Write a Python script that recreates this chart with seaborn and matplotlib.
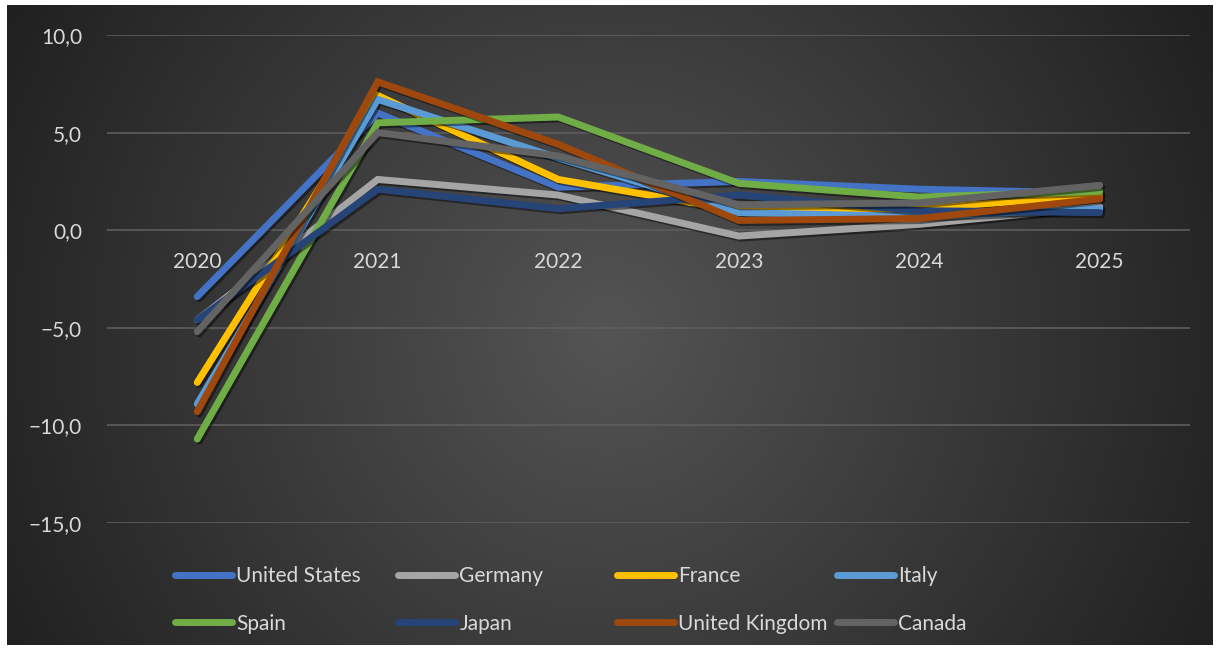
import numpy as np
import pandas as pd
import matplotlib
matplotlib.use("Agg")
import matplotlib.pyplot as plt
import matplotlib.patheffects as pe
from matplotlib.lines import Line2D
import seaborn as sns

years = ["2020", "2021", "2022", "2023", "2024", "2025"]
countries = ["United States", "Germany", "France", "Italy",
             "Spain", "Japan", "United Kingdom", "Canada"]
us = [-3.4, 6.0, 2.2, 2.5, 2.1, 1.9]
germany = [-4.6, 2.6, 1.8, -0.3, 0.3, 1.2]
france = [-7.8, 6.9, 2.6, 1.0, 1.1, 1.8]
italy = [-8.9, 6.7, 3.7, 0.9, 0.7, 1.1]
spain = [-10.7, 5.5, 5.8, 2.4, 1.7, 2.0]
japan = [-4.6, 2.1, 1.1, 1.8, 1.0, 0.9]
uk = [-9.3, 7.6, 4.4, 0.5, 0.6, 1.6]
canada = [-5.2, 5.0, 3.8, 1.3, 1.4, 2.3]
series = [us, germany, france, italy, spain, japan, uk, canada]
colors = ["#4472C4", "#A5A5A5", "#FFC000", "#5B9BD5",
          "#70AD47", "#264478", "#9E480E", "#636363"]
yticks = [-15, -10, -5, 0, 5, 10]

rows = []
for c, vals in zip(countries, series):
    for i, v in enumerate(vals):
        rows.append({"x": i, "value": v, "country": c})
df = pd.DataFrame(rows)

sns.set_style("white")
plt.rcParams["font.family"] = ["Lato", "DejaVu Sans"]
txt = "#d9d9d9"
fs = 15

W, H = 1217, 650
fig = plt.figure(figsize=(W / 100, H / 100), dpi=100, facecolor="white")

# radial gradient background
bg = fig.add_axes([7 / W, 5 / H, (1213 - 7) / W, (645 - 5) / H], zorder=-5)
yy, xx = np.mgrid[0:640, 0:1206]
cx, cy = 600, 330
r = np.sqrt((xx - cx) ** 2 + (yy - cy) ** 2)
r = r / np.sqrt(cx ** 2 + cy ** 2)
r = np.clip(r, 0, 1)
c0 = np.array([0x54, 0x54, 0x54]) / 255
c1 = np.array([0x20, 0x20, 0x20]) / 255
img = c0[None, None, :] * (1 - r[..., None]) + c1[None, None, :] * r[..., None]
bg.imshow(img, aspect="auto", interpolation="bilinear")
bg.set_axis_off()

ax = fig.add_axes([107 / W, 1 - 523 / H, (1190 - 107) / W, (523 - 35) / H])
ax.set_facecolor("none")

sns.lineplot(data=df, x="x", y="value", hue="country", hue_order=countries,
             palette=colors, linewidth=5, solid_capstyle="round",
             solid_joinstyle="miter", legend=False, ax=ax,
             path_effects=[pe.SimpleLineShadow(offset=(1.5, -1.5), shadow_color="black", alpha=0.45),
                           pe.Normal()])

for s in ax.spines.values():
    s.set_visible(False)
ax.spines["bottom"].set_position(("data", 0))

ax.set_xlim(-0.5, 5.5)
ax.set_ylim(-15, 10)
ax.set_xticks(range(len(years)))
ax.set_xticklabels(years)
ax.set_yticks(yticks)
ax.set_yticklabels([("\u2212" if v < 0 else "") + f"{abs(v):.1f}".replace(".", ",") for v in yticks])
ax.tick_params(axis="x", length=0, pad=16, labelcolor=txt, labelsize=fs)
ax.tick_params(axis="y", length=0, pad=18, labelcolor=txt, labelsize=fs)
ax.set_xlabel("")
ax.set_ylabel("")
ax.yaxis.grid(True, color="#5e5e5e", linewidth=1.2)
ax.xaxis.grid(False)
ax.set_axisbelow(True)

# legend: 4 equal-width columns, 2 rows
col_x = [175, 398, 617, 837]
for ci in range(4):
    hs, ls = [], []
    for ri in range(2):
        k = ri * 4 + ci
        hs.append(Line2D([0], [0], color=colors[k], lw=5, solid_capstyle="round"))
        ls.append(countries[k])
    fig.legend(handles=hs, labels=ls, loc="upper left",
               bbox_to_anchor=(col_x[ci] / W, 1 - 566 / H),
               frameon=False, fontsize=fs, labelcolor=txt,
               handlelength=2.75, handletextpad=0.2, borderpad=0,
               borderaxespad=0, labelspacing=1.32)

fig.savefig("out.png", dpi=100, facecolor=fig.get_facecolor())
